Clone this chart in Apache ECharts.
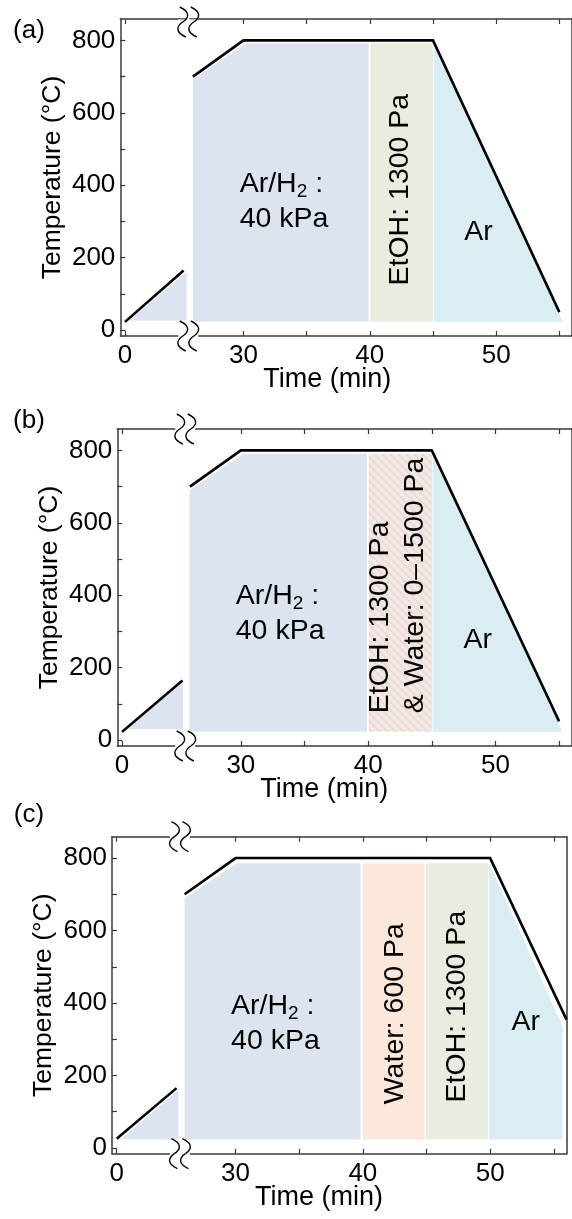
<!DOCTYPE html>
<html><head><meta charset="utf-8">
<script src="https://cdn.jsdelivr.net/npm/echarts@6/dist/echarts.min.js"></script>
<style>html,body{margin:0;padding:0;background:#fff}#c{width:572px;height:1219px}</style>
</head><body><div id="c"></div>
<script>
// ---------------- data ----------------
const yTickValues  = [0, 100, 200, 300, 400, 500, 600, 700, 800];
const yLabelValues = [0, 200, 400, 600, 800];
const xLeftTicks   = [0];
const xLeftLabels  = [0];
const xRightTicks  = [30, 35, 40, 45, 50, 55];
const xRightLabels = [30, 40, 50];

// temperature profiles [time (min), temperature (°C)]
const rampA = [[0, 23], [4.6, 165]];
const mainA = [[26, 700], [30, 800], [45, 800], [55, 50]];
const rampB = [[0, 23], [4.75, 165]];
const mainB = [[26, 700], [30, 800], [45, 800], [55, 52]];
const rampC = [[0, 25], [4.7, 165]];
const mainC = [[26, 700], [30, 800], [50, 800], [56, 354]];

// gas regions (polygon vertices in time/temperature)
const fillA_ramp = [[0.3, 27], [4.85, 161], [4.85, 27]];
const fillA_arh2 = [[26.0, 23], [26.0, 692], [30.2, 792], [39.9, 792], [39.9, 23]];
const fillA_etoh = [[40.05, 23], [40.05, 792], [45.0, 792], [45.0, 23]];
const fillA_ar   = [[45.07, 23], [45.07, 790], [55.1, 35], [55.3, 23]];

const fillB_ramp = [[0.3, 30], [4.8, 160], [4.8, 30]];
const fillB_arh2 = [[25.96, 23], [25.96, 690], [30.2, 791], [39.9, 791], [39.9, 23]];
const fillB_mix  = [[40.05, 23], [40.05, 791], [45.0, 791], [45.0, 23]];
const fillB_ar   = [[45.07, 23], [45.07, 790], [55.05, 40], [55.25, 23]];

const fillC_ramp  = [[0.3, 23], [4.84, 160], [4.84, 23]];
const fillC_arh2  = [[26.0, 23], [26.0, 689], [30.1, 786], [39.8, 786], [39.8, 23]];
const fillC_water = [[40.0, 23], [40.0, 786], [44.85, 786], [44.85, 23]];
const fillC_etoh  = [[44.95, 23], [44.95, 786], [49.85, 786], [49.85, 23]];
const fillC_ar    = [[49.92, 23], [49.92, 786], [55.7, 335], [55.7, 23]];

// texts
const panelLetters = ['(a)', '(b)', '(c)'];
const xTitle = 'Time (min)';
const yTitle = 'Temperature (°C)';
const txtArH2 = '{m|Ar/H}{s|2}{m| :}\n{m|40 kPa}';
const txtEtOH = 'EtOH: 1300 Pa';
const txtMix  = 'EtOH: 1300 Pa\n& Water: 0–1500 Pa';
const txtWater = 'Water: 600 Pa';
const txtAr = 'Ar';

// ---------------- styles / layout ----------------
const FONT = '"Liberation Sans", Arial, Helvetica, sans-serif';
const COL = {
  arh2: '#dbe4ef', etoh: '#e9eddf', ar: '#daedf3', water: '#fce8db'
};
const pc = document.createElement('canvas'); pc.width = 8; pc.height = 8;
(function(){ const g = pc.getContext('2d'); g.fillStyle = '#ebeee0'; g.fillRect(0,0,8,8);
  g.strokeStyle = '#f6d6dd'; g.lineWidth = 2.6;
  for (let k = -8; k <= 16; k += 8) { g.beginPath(); g.moveTo(k, 0); g.lineTo(k + 8, 8); g.stroke(); } })();
const STRIPES = { type: 'pattern', image: pc, repeat: 'repeat' };

const panels = [
  { ramp: rampA, main: mainA,
    leftFills: [{ poly: fillA_ramp, fill: COL.arh2 }],
    fills: [{ poly: fillA_arh2, fill: COL.arh2 }, { poly: fillA_etoh, fill: COL.etoh }, { poly: fillA_ar, fill: COL.ar }],
    labels: [{ at: [29.7, 356], text: txtArH2, rot: 0, align: 'left' },
             { at: [42.4, 388], text: txtEtOH, rot: 90, align: 'center' },
             { at: [48.6, 270], text: txtAr, rot: 0, align: 'center' }] },
  { ramp: rampB, main: mainB,
    leftFills: [{ poly: fillB_ramp, fill: COL.arh2 }],
    fills: [{ poly: fillB_arh2, fill: COL.arh2 }, { poly: fillB_mix, fill: STRIPES }, { poly: fillB_ar, fill: COL.ar }],
    labels: [{ at: [29.6, 350], text: txtArH2, rot: 0, align: 'left' },
             { at: [42.35, 74.5], text: txtMix, rot: 90, align: 'left' },
             { at: [48.6, 276], text: txtAr, rot: 0, align: 'center' }] },
  { ramp: rampC, main: mainC,
    leftFills: [{ poly: fillC_ramp, fill: COL.arh2 }],
    fills: [{ poly: fillC_arh2, fill: COL.arh2 }, { poly: fillC_water, fill: COL.water },
            { poly: fillC_etoh, fill: COL.etoh }, { poly: fillC_ar, fill: COL.ar }],
    labels: [{ at: [29.65, 344], text: txtArH2, rot: 0, align: 'left' },
             { at: [42.5, 370.5], text: txtWater, rot: 90, align: 'center' },
             { at: [47.4, 390], text: txtEtOH, rot: 90, align: 'center' },
             { at: [52.8, 347], text: txtAr, rot: 0, align: 'center' }] }
];

const S = 12.73;              // px per minute
const XL = [-0.37, 4.85], XR = [25.75, 56], YR = [-16, 859];
const H = 317, GAP = 3;
const WL = (XL[1] - XL[0]) * S, WR = (XR[1] - XR[0]) * S;
const layout = [{ L: 120.3, T: 19, letterY: 30.5 }, { L: 117.3, T: 429, letterY: 421 }, { L: 112.0, T: 836.7, letterY: 815 }];
const AX = '#3a3a3a';

const grid = [], xAxis = [], yAxis = [], series = [], graphic = [];
const lineSt = { color: AX, width: 1.5 };
const tickSt = { color: AX, width: 1.2 };

function xAx(gi, range, pos, ticks, labels) {
  return { type: 'value', gridIndex: gi, position: pos, min: range[0], max: range[1],
    axisLine: { show: true, onZero: false, lineStyle: lineSt },
    axisTick: { show: true, inside: true, length: 5, customValues: ticks, lineStyle: tickSt },
    axisLabel: labels ? { show: true, customValues: labels, margin: 7, fontSize: 26, color: '#000', fontFamily: FONT } : { show: false },
    splitLine: { show: false } };
}

function polySeries(xi, yi, polys) {
  return { type: 'custom', xAxisIndex: xi, yAxisIndex: yi, silent: true, z: 1, clip: true,
    data: polys.map((p, i) => [p.poly[0][0], p.poly[0][1], i]),
    renderItem: (params, api) => {
      const p = polys[params.dataIndex];
      return { type: 'polygon', shape: { points: p.poly.map(v => api.coord(v)) }, style: { fill: p.fill } };
    } };
}

function textSeries(xi, yi, labels) {
  return { type: 'custom', xAxisIndex: xi, yAxisIndex: yi, silent: true, z: 5, clip: false,
    data: labels.map((l, i) => [l.at[0], l.at[1], i]),
    renderItem: (params, api) => {
      const l = labels[params.dataIndex];
      const pt = api.coord(l.at);
      return { type: 'text', x: pt[0], y: pt[1], rotation: l.rot * Math.PI / 180,
        style: { text: l.text, fill: '#000', fontSize: 28.5, fontFamily: FONT, lineHeight: 35,
          align: l.align, verticalAlign: 'middle',
          rich: { m: { fontSize: 28.5, fontFamily: FONT, lineHeight: 35, fill: '#000', color: '#000' },
                  s: { fontSize: 19, fontFamily: FONT, lineHeight: 19, verticalAlign: 'bottom', fill: '#000', color: '#000' } } } };
    } };
}

function breakMark(cx, cy) {
  const el = [{ type: 'rect', z: 100, shape: { x: cx - 10, y: cy - 2.5, width: 20, height: 5 }, style: { fill: '#fff' } }];
  [cx - 5.5, cx + 5.5].forEach(x => {
    el.push({ type: 'bezierCurve', z: 101, shape: { x1: x - 3, y1: cy - 15, cpx1: x + 8, cpy1: cy - 10, cpx2: x + 6, cpy2: cy - 4, x2: x, y2: cy },
      style: { stroke: '#000', fill: null, lineWidth: 1.4 } });
    el.push({ type: 'bezierCurve', z: 101, shape: { x1: x, y1: cy, cpx1: x - 6, cpy1: cy + 4, cpx2: x - 8, cpy2: cy + 10, x2: x + 3, y2: cy + 15 },
      style: { stroke: '#000', fill: null, lineWidth: 1.4 } });
  });
  return el;
}

panels.forEach((p, i) => {
  const { L, T, letterY } = layout[i];
  const gL = 2 * i, gR = 2 * i + 1;
  grid.push({ left: L, top: T, width: WL, height: H });
  grid.push({ left: L + WL + GAP, top: T, width: WR, height: H });
  xAxis.push(xAx(gL, XL, 'bottom', xLeftTicks, xLeftLabels));
  xAxis.push(xAx(gL, XL, 'top', xLeftTicks, null));
  xAxis.push(xAx(gR, XR, 'bottom', xRightTicks, xRightLabels));
  xAxis.push(xAx(gR, XR, 'top', xRightTicks, null));
  yAxis.push({ type: 'value', gridIndex: gL, position: 'left', min: YR[0], max: YR[1],
    axisLine: { show: true, onZero: false, lineStyle: lineSt },
    axisTick: { show: true, inside: true, length: 5, customValues: yTickValues, lineStyle: tickSt },
    axisLabel: { show: true, customValues: yLabelValues, margin: 5, fontSize: 26, color: '#000', fontFamily: FONT },
    splitLine: { show: false } });
  yAxis.push({ type: 'value', gridIndex: gR, position: 'right', min: YR[0], max: YR[1],
    axisLine: { show: true, onZero: false, lineStyle: lineSt },
    axisTick: { show: false }, axisLabel: { show: false }, splitLine: { show: false } });

  const xiL = 4 * i, xiR = 4 * i + 2, yiL = 2 * i, yiR = 2 * i + 1;
  series.push(polySeries(xiL, yiL, p.leftFills));
  series.push(polySeries(xiR, yiR, p.fills));
  series.push({ type: 'line', xAxisIndex: xiL, yAxisIndex: yiL, data: p.ramp, showSymbol: false, silent: true, z: 3,
    lineStyle: { color: '#000', width: 2.6 } });
  series.push({ type: 'line', xAxisIndex: xiR, yAxisIndex: yiR, data: p.main, showSymbol: false, silent: true, z: 3,
    lineStyle: { color: '#000', width: 2.6, join: 'miter' } });
  series.push(textSeries(xiR, yiR, p.labels));

  const cx = L + WL + GAP / 2;
  graphic.push(...breakMark(cx, T + (i === 0 ? 3 : 0)), ...breakMark(cx, T + H));
  graphic.push({ type: 'text', z: 50, x: 29, y: letterY,
    style: { text: panelLetters[i], fontSize: 26, fontFamily: FONT, fill: '#000', align: 'center', verticalAlign: 'middle' } });
  graphic.push({ type: 'text', z: 50, x: L - 68, y: T + H / 2, rotation: Math.PI / 2,
    style: { text: yTitle, fontSize: 26.5, fontFamily: FONT, fill: '#000', align: 'center', verticalAlign: 'middle' } });
  graphic.push({ type: 'text', z: 50, x: L + 207, y: T + H + 44,
    style: { text: xTitle, fontSize: 27, fontFamily: FONT, fill: '#000', align: 'center', verticalAlign: 'middle' } });
});

const chart = echarts.init(document.getElementById('c'), null, { renderer: 'canvas', width: 572, height: 1219 });
chart.setOption({ animation: false, backgroundColor: '#fff', grid, xAxis, yAxis, series, graphic });
</script></body></html>
